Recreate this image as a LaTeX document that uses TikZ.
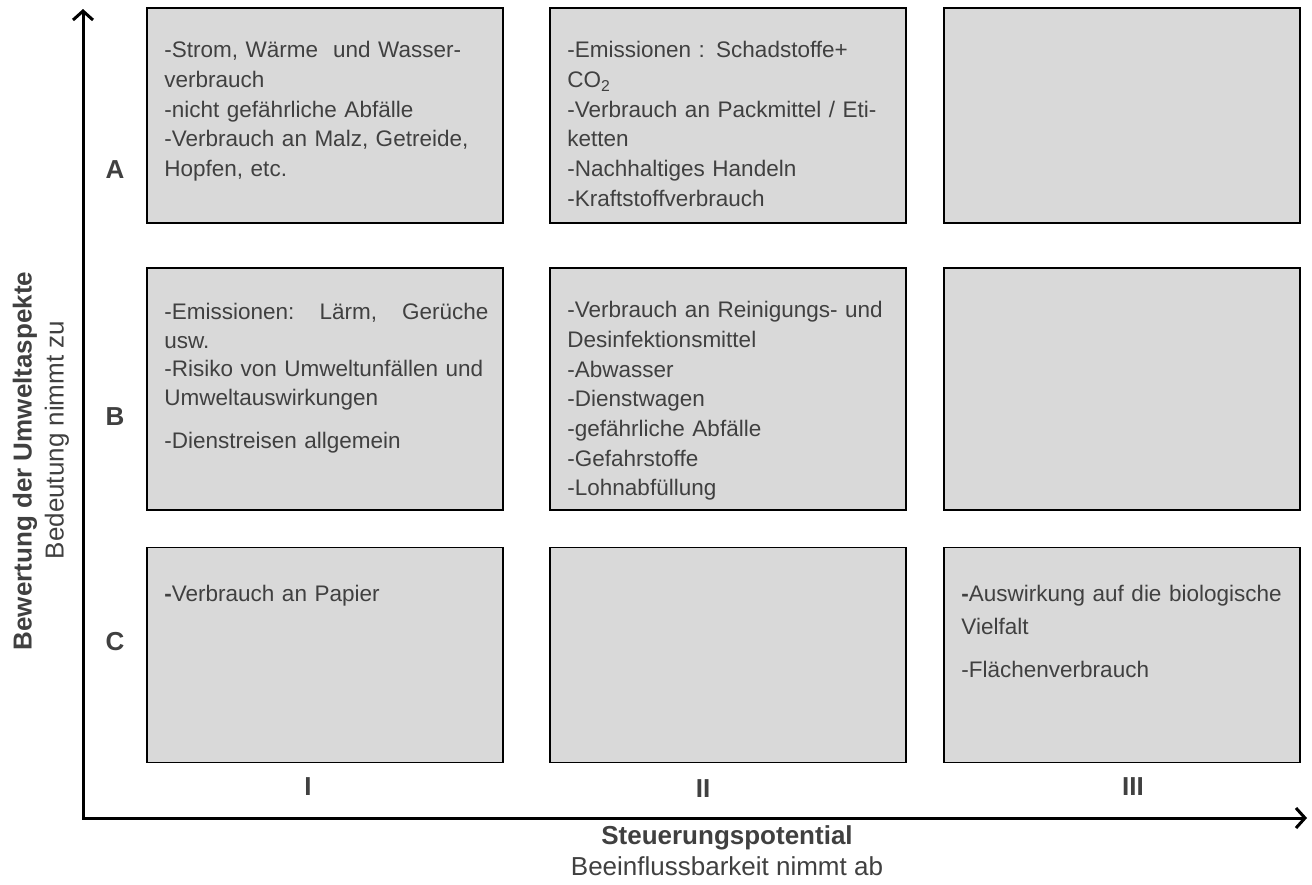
\documentclass[tikz,border=0pt]{standalone}
\usepackage{fontspec}
\setmainfont{Liberation Sans}
\usetikzlibrary{arrows.meta,positioning}
\definecolor{cellgray}{HTML}{D9D9D9}
\definecolor{labelgray}{HTML}{404040}
\begin{document}
\begin{tikzpicture}[x=1pt,y=-1pt]
	\useasboundingbox (0,0) rectangle (1312,884);
	\begin{scope}[every node/.style={draw=black,line width=1.5pt,fill=cellgray,minimum width=356pt,minimum height=215pt,inner sep=0pt}]
	\node (a1) at (325,115.5) {};
	\node (a2) at (728,115.5) {};
	\node (a3) at (1122,115.5) {};
	\node[minimum height=242pt] (b1) at (325,389) {};
	\node[minimum height=242pt] (b2) at (728,389) {};
	\node[minimum height=242pt] (b3) at (1122,389) {};
	\node (c1) at (325,655) {};
	\node (c2) at (728,655) {};
	\node (c3) at (1122,655) {};
	\end{scope}
	\begin{scope}[every node/.style={anchor=north west,text width=324pt,align=left,inner sep=0pt,text=labelgray,font=\fontsize{22.5}{29.7}\selectfont}]
	\node[below right=34pt and 18pt of a1.north west] (ta1) {-Strom, Wärme\ \ und Wasser-\\verbrauch\\-nicht gefährliche Abfälle\\-Verbrauch an Malz, Getreide,\\Hopfen, etc.};
	\node[below right=34pt and 18pt of a2.north west] (ta2) {-Emissionen : Schadstoffe+\\CO\textsubscript{2}\\-Verbrauch an Packmittel / Eti-\\ketten\\-Nachhaltiges Handeln\\-Kraftstoffverbrauch};
	\node[below right=36pt and 18pt of b1.north west,font=\fontsize{22.5}{28.5}\selectfont] (tb1) {-Emissionen:\hfill Lärm,\hfill Gerüche\\usw.\\-Risiko von Umweltunfällen und\\Umweltauswirkungen\\[15pt]-Dienstreisen allgemein};
	\node[below right=34pt and 18pt of b2.north west] (tb2) {-Verbrauch an Reinigungs- und\\Desinfektionsmittel\\-Abwasser\\-Dienstwagen\\-gefährliche Abfälle\\-Gefahrstoffe\\-Lohnabfüllung};
	\node[below right=38pt and 18pt of c1.north west] (tc1) {{\bfseries -}Verbrauch an Papier};
	\node[below right=38pt and 18pt of c3.north west] (tc3) {{\bfseries -}Auswirkung auf die biologische\\[4pt]Vielfalt\\[13pt]-Flächenverbrauch};
	\end{scope}
	\begin{scope}[every node/.style={text=labelgray,font=\fontsize{26}{30}\selectfont\bfseries}]
	\node (rowA) at (115,170) {A};
	\node (rowB) at (115,417) {B};
	\node (rowC) at (115,642) {C};
	\node (colI) at (308,787) {I};
	\node (colII) at (703,789) {II};
	\node (colIII) at (1133,787) {III};
	\node[rotate=90] (ytitle) at (25,461) {Bewertung der Umweltaspekte};
	\node[rotate=90,font=\fontsize{26}{30}\selectfont] (ysub) at (57,440) {Bedeutung nimmt zu};
	\node (xtitle) at (727,838) {Steuerungspotential};
	\node[font=\fontsize{26}{30}\selectfont] (xsub) at (727,866) {Beeinflussbarkeit nimmt ab};
	\end{scope}
	\coordinate (origin) at (83,818);
	\coordinate (ytip) at (83,9);
	\coordinate (xtip) at (1307,818);
	\draw[line width=3pt,line join=miter,{Straight Barb[length=9pt,width=20pt]}-{Straight Barb[length=9pt,width=20pt]}] (ytip) -- (origin) -- (xtip);
\end{tikzpicture}
\end{document}
